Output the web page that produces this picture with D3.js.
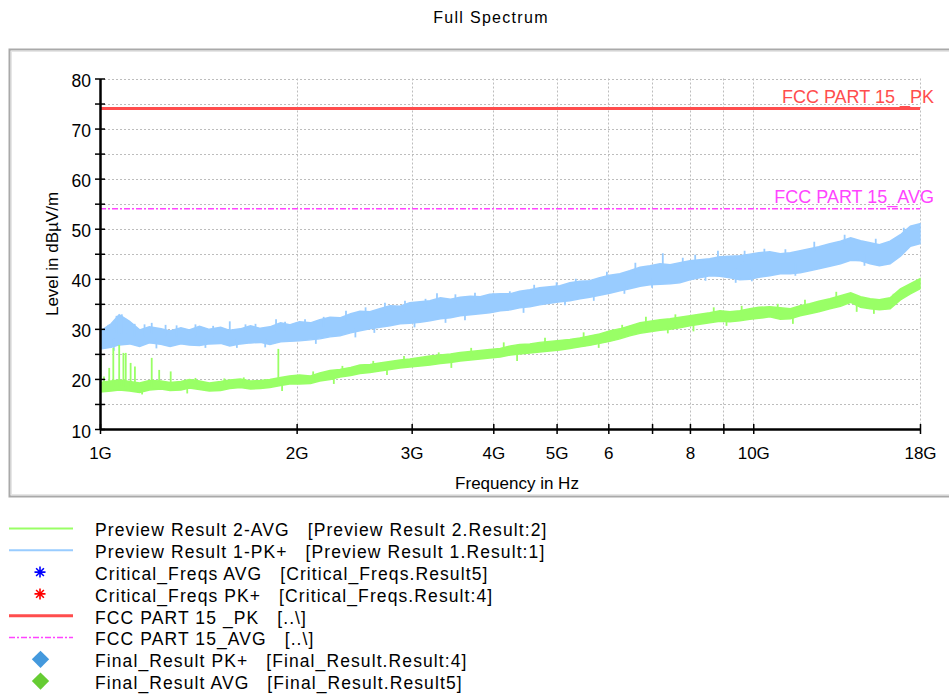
<!DOCTYPE html>
<html>
<head>
<meta charset="utf-8">
<script src="https://cdn.jsdelivr.net/npm/d3@7"></script>
<style>
  body { margin: 0; background: #fff; }
  svg { font-family: "Liberation Sans", Arial, sans-serif; display: block; }
  svg text { white-space: pre; }
</style>
</head>
<body>
<div id="chart"></div>
<script>
// frequency grid in GHz (log spaced)
const freqGHz = [
  1.00, 1.04, 1.07, 1.11, 1.15, 1.19, 1.24, 1.28, 1.33, 1.37,
  1.42, 1.47, 1.53, 1.58, 1.64, 1.70, 1.76, 1.82, 1.89, 1.95,
  2.02, 2.10, 2.17, 2.25, 2.33, 2.42, 2.50, 2.59, 2.68, 2.78,
  2.88, 2.98, 3.09, 3.20, 3.32, 3.44, 3.56, 3.69, 3.82, 3.95,
  4.10, 4.25, 4.39, 4.55, 4.71, 4.88, 5.06, 5.24, 5.43, 5.62,
  5.82, 6.03, 6.25, 6.47, 6.71, 6.95, 7.20, 7.46, 7.72, 8.00,
  8.28, 8.58, 8.89, 9.21, 9.54, 9.88, 10.2, 10.6, 11.0, 11.4,
  11.8, 12.2, 12.6, 13.1, 13.6, 14.1, 14.6, 15.1, 15.6, 16.2,
  16.8, 17.4, 18.0
];

// Preview Result 1-PK+ (blue band: upper / lower edge, dBuV/m)
const pkHigh = [
  29.5, 31.0, 32.8, 31.5, 29.8, 30.4, 30.0, 29.6, 30.2, 29.8,
  30.5, 29.9, 30.3, 29.7, 30.0, 30.6, 30.1, 30.4, 31.2, 30.8,
  31.4, 31.2, 31.8, 32.3, 32.2, 33.0, 33.5, 33.4, 34.0, 34.6,
  34.5, 35.2, 35.4, 35.6, 36.2, 35.9, 36.3, 36.5, 36.4, 36.9,
  37.0, 37.0, 37.5, 37.8, 38.2, 38.4, 38.6, 39.2, 39.5, 39.6,
  40.2, 40.7, 41.0, 41.6, 42.3, 42.6, 43.0, 42.8, 43.2, 43.6,
  43.8, 44.0, 44.4, 44.5, 44.6, 44.9, 45.2, 45.4, 45.0, 45.2,
  45.6, 46.0, 46.4, 47.0, 47.5, 48.2, 47.6, 47.2, 46.8, 47.5,
  48.8, 50.5, 51.0
];
const pkLow = [
  26.0, 26.3, 26.8, 27.0, 26.5, 27.2, 26.9, 26.5, 27.0, 26.8,
  26.7, 27.0, 27.1, 26.6, 27.0, 27.2, 27.3, 26.9, 27.4, 27.5,
  27.6, 27.8, 28.0, 28.4, 28.6, 29.2, 29.6, 30.0, 30.3, 30.6,
  31.0, 31.1, 31.3, 31.6, 32.0, 32.2, 32.6, 32.8, 33.0, 33.2,
  33.6, 33.8, 34.2, 34.4, 34.8, 35.1, 35.4, 35.6, 36.0, 36.3,
  36.7, 37.1, 37.6, 38.0, 38.5, 38.8, 38.9, 39.0, 39.2, 39.8,
  40.2, 40.6, 40.5, 40.2, 39.8, 39.9, 40.3, 40.6, 41.0, 41.0,
  41.2, 41.6, 42.0, 42.5, 43.0, 43.7, 43.6, 43.0, 42.6, 43.0,
  44.5, 46.5, 47.0
];

// Preview Result 2-AVG (green band)
const avgHigh = [
  19.3, 19.6, 19.8, 19.5, 19.2, 19.7, 19.6, 19.3, 19.5, 19.9,
  19.6, 19.2, 19.5, 19.8, 20.0, 19.6, 19.7, 19.9, 20.3, 20.6,
  20.8, 20.6, 21.2, 21.7, 21.9, 22.3, 22.8, 22.9, 23.2, 23.5,
  23.8, 24.0, 24.3, 24.6, 24.8, 25.0, 25.3, 25.5, 25.7, 25.9,
  26.1, 26.6, 26.9, 27.0, 27.3, 27.5, 27.7, 27.9, 28.2, 28.6,
  29.0, 29.6, 30.0, 30.6, 31.2, 31.5, 31.8, 32.0, 32.3, 32.6,
  32.9, 33.2, 33.6, 33.4, 33.6, 34.0, 34.3, 34.4, 34.2, 34.0,
  34.6, 35.0, 35.5, 36.0, 36.6, 37.2, 36.4, 36.0, 35.8, 36.2,
  38.0, 39.0, 40.0
];
const avgLow = [
  17.4, 17.6, 17.8, 17.6, 17.3, 17.8, 18.0, 17.7, 17.8, 18.2,
  17.9, 17.6, 17.7, 18.1, 18.3, 18.0, 18.1, 18.3, 18.7, 19.0,
  19.0, 19.1, 19.6, 19.9, 20.4, 20.7, 21.1, 21.3, 21.6, 21.9,
  22.2, 22.4, 22.6, 22.8, 23.1, 23.3, 23.6, 23.8, 24.0, 24.2,
  24.4, 24.8, 25.0, 25.2, 25.4, 25.6, 25.8, 26.1, 26.4, 26.7,
  27.1, 27.5, 28.0, 28.6, 29.1, 29.4, 29.7, 29.9, 30.2, 30.6,
  30.9, 31.2, 31.5, 31.4, 31.6, 31.9, 32.1, 32.4, 31.9, 32.0,
  32.6, 33.0, 33.4, 34.0, 34.5, 35.3, 34.3, 34.0, 33.8, 34.0,
  35.8, 37.0, 38.0
];

// narrow peaks and notches sticking out of the bands: [GHz, from, to]
const pkSpikes = [
  [1.03, 28.0, 30.8], [1.06, 29.0, 32.6], [1.08, 29.0, 32.9], [1.095, 29.0, 32.0],
  [1.13, 28.5, 31.0], [1.17, 28.5, 30.9], [1.20, 29.0, 31.2], [1.26, 28.5, 30.8],
  [1.31, 28.5, 30.7], [1.40, 28.5, 30.9], [1.49, 28.5, 30.6], [1.58, 29.0, 31.5],
  [1.67, 29.0, 30.9], [1.73, 29.0, 31.0], [1.86, 29.5, 31.9], [1.92, 29.5, 31.4],
  [2.00, 30.0, 31.3], [2.06, 30.0, 31.9], [2.20, 30.5, 32.4], [2.38, 31.5, 33.6],
  [2.55, 32.0, 34.3], [2.73, 33.0, 35.2], [2.93, 33.5, 35.6], [3.15, 34.0, 36.0],
  [3.28, 35.0, 37.1], [3.50, 35.0, 36.9], [3.75, 35.5, 37.2], [4.00, 36.0, 37.1],
  [4.24, 36.0, 37.5], [4.62, 37.0, 38.8], [5.00, 37.5, 39.3], [5.35, 38.0, 40.0],
  [5.97, 39.5, 41.4], [6.60, 41.0, 43.2], [7.27, 42.0, 45.1], [7.80, 42.5, 44.2],
  [8.15, 43.0, 44.8], [8.83, 43.5, 45.6], [9.70, 43.5, 45.6], [10.4, 44.0, 46.0],
  [11.2, 44.0, 45.9], [12.4, 45.5, 47.4], [13.8, 47.0, 48.8], [15.4, 46.0, 48.0],
  [17.0, 48.0, 50.2],
  [1.05, 28.0, 25.6], [1.22, 28.0, 26.1], [1.45, 28.0, 26.2], [1.62, 28.0, 26.2],
  [1.79, 28.0, 26.3], [2.14, 29.0, 27.0], [2.46, 30.0, 28.3], [2.63, 31.0, 29.2],
  [3.03, 32.0, 30.3], [3.38, 33.0, 31.2], [3.62, 33.5, 31.7], [4.45, 35.0, 33.2],
  [5.15, 36.5, 34.7], [5.70, 37.5, 35.6], [6.35, 39.0, 37.0], [7.00, 40.0, 38.2],
  [8.45, 42.0, 39.6], [9.40, 42.0, 39.2], [9.95, 42.0, 39.5], [11.6, 43.0, 40.6],
  [14.8, 45.0, 42.6]
];
const avgSpikes = [
  [1.002, 18.5, 24.5], [1.014, 18.5, 20.5], [1.033, 18.5, 22.2], [1.048, 18.5, 26.2],
  [1.070, 18.5, 26.8], [1.086, 18.5, 25.2], [1.095, 18.5, 25.2], [1.114, 18.5, 23.2],
  [1.131, 18.5, 22.5], [1.200, 18.5, 24.2], [1.232, 18.5, 21.8], [1.283, 18.5, 21.5],
  [1.875, 19.0, 26.0],
  [1.40, 18.5, 20.2], [1.55, 18.5, 20.1], [1.66, 18.7, 20.3], [2.12, 19.5, 21.5],
  [2.35, 20.5, 22.6], [2.62, 21.5, 23.6], [2.92, 22.5, 24.6], [3.30, 23.5, 25.3],
  [3.70, 24.5, 26.2], [4.15, 25.0, 27.3], [4.80, 26.0, 28.2], [5.50, 27.0, 29.3],
  [6.30, 28.5, 30.8], [6.85, 30.0, 32.4], [7.60, 31.0, 32.9], [8.70, 32.0, 34.3],
  [9.60, 32.5, 34.6], [10.9, 33.0, 35.0], [12.0, 34.0, 35.8], [13.4, 35.0, 37.4],
  [16.4, 35.0, 37.0],
  [1.16, 18.5, 16.9], [1.36, 18.5, 17.1], [1.90, 19.0, 17.6], [2.28, 20.0, 19.0],
  [2.75, 22.0, 20.8], [3.45, 23.5, 22.2], [4.35, 25.0, 23.6], [5.80, 27.0, 26.2],
  [7.40, 30.5, 29.1], [8.10, 31.0, 29.5], [9.10, 32.0, 30.6], [11.5, 33.0, 31.0],
  [14.4, 36.0, 33.4], [15.3, 35.0, 33.0]
];

const limitPK = 74;
const limitAVG = 54;

const xTickValues = [1, 2, 3, 4, 5, 6, 7, 8, 9, 10, 18];
const xTickLabels = ["1G", "2G", "3G", "4G", "5G", "6", "", "8", "", "10G", "18G"];
const yTickValues = [10, 15, 20, 25, 30, 35, 40, 45, 50, 55, 60, 65, 70, 75, 80];
const yTickLabels = ["10", "", "20", "", "30", "", "40", "", "50", "", "60", "", "70", "", "80"];

const legendLabels = [
  "Preview Result 2-AVG   [Preview Result 2.Result:2]",
  "Preview Result 1-PK+   [Preview Result 1.Result:1]",
  "Critical_Freqs AVG   [Critical_Freqs.Result5]",
  "Critical_Freqs PK+   [Critical_Freqs.Result:4]",
  "FCC PART 15 _PK   [..\\]",
  "FCC PART 15_AVG   [..\\]",
  "Final_Result PK+   [Final_Result.Result:4]",
  "Final_Result AVG   [Final_Result.Result5]"
];
const legendKinds = ["line", "line", "star", "star", "line", "dashdot", "diamond", "diamond"];
const legendColors = ["#99ff66", "#99ccff", "#0000ff", "#ff0000", "#ff4d4d", "#ff44ff", "#4499dd", "#66cc33"];

const width = 949;
const height = 695;
const plot = { left: 100, right: 920, top: 78.5, bottom: 429 };

const svg = d3.select("#chart").append("svg")
  .attr("width", width)
  .attr("height", height);

// outer frame of the plot panel
svg.append("rect")
  .attr("x", 9.5).attr("y", 49.5)
  .attr("width", 980).attr("height", 447)
  .attr("fill", "none")
  .attr("stroke", "#a9a9a9")
  .attr("stroke-width", 2);
svg.append("rect")
  .attr("x", 11.5).attr("y", 51.5)
  .attr("width", 980).attr("height", 443)
  .attr("fill", "none")
  .attr("stroke", "#e6e6e6")
  .attr("stroke-width", 1);

svg.append("text")
  .attr("x", 491).attr("y", 23)
  .attr("text-anchor", "middle")
  .style("font-size", "16px")
  .style("letter-spacing", "1.3px")
  .text("Full Spectrum");

const x = d3.scaleLog().domain([1, 18]).range([plot.left, plot.right]);
const y = d3.scaleLinear().domain([10, 80]).range([plot.bottom, plot.top]);

// dotted grid
const grid = svg.append("g").attr("class", "grid")
  .attr("stroke", "#bdbdbd").attr("stroke-width", 1).attr("stroke-dasharray", "2,2");
grid.selectAll("line.h").data(yTickValues.filter(v => v > 10)).join("line")
  .attr("class", "h")
  .attr("x1", plot.left).attr("x2", plot.right)
  .attr("y1", d => Math.round(y(d)) + 0.5).attr("y2", d => Math.round(y(d)) + 0.5);
grid.selectAll("line.v").data(xTickValues.filter(v => v > 1)).join("line")
  .attr("class", "v")
  .attr("x1", d => Math.round(x(d)) + 0.5).attr("x2", d => Math.round(x(d)) + 0.5)
  .attr("y1", plot.top).attr("y2", plot.bottom);

svg.append("clipPath").attr("id", "plotclip")
  .append("rect")
  .attr("x", plot.left).attr("y", plot.top - 2)
  .attr("width", plot.right - plot.left + 2).attr("height", plot.bottom - plot.top + 2);

const traces = svg.append("g").attr("clip-path", "url(#plotclip)");

const pkRows = freqGHz.map((f, i) => ({ f, lo: pkLow[i], hi: pkHigh[i] }));
const avgRows = freqGHz.map((f, i) => ({ f, lo: avgLow[i], hi: avgHigh[i] }));

const band = d3.area()
  .x(d => x(d.f))
  .y0(d => y(d.lo))
  .y1(d => y(d.hi));

function drawTrace(rows, spikes, color) {
  traces.append("path").datum(rows)
    .attr("d", band)
    .attr("fill", color)
    .attr("stroke", color)
    .attr("stroke-width", 1.5);
  traces.append("g").selectAll("line").data(spikes).join("line")
    .attr("x1", d => x(d[0])).attr("x2", d => x(d[0]))
    .attr("y1", d => y(d[1])).attr("y2", d => y(d[2]))
    .attr("stroke", color).attr("stroke-width", 1.8);
}
drawTrace(pkRows, pkSpikes, "#99ccff");
drawTrace(avgRows, avgSpikes, "#99ff66");

// limit lines
svg.append("line")
  .attr("x1", plot.left).attr("x2", plot.right)
  .attr("y1", y(limitPK)).attr("y2", y(limitPK))
  .attr("stroke", "#ff4d4d").attr("stroke-width", 3);
svg.append("line")
  .attr("x1", plot.left).attr("x2", plot.right)
  .attr("y1", y(limitAVG)).attr("y2", y(limitAVG))
  .attr("stroke", "#ff44ff").attr("stroke-width", 1.5)
  .attr("stroke-dasharray", "6,2,2,2");

svg.append("text")
  .attr("x", 934).attr("y", y(limitPK) - 6)
  .attr("text-anchor", "end")
  .attr("fill", "#ff4d4d")
  .style("font-size", "18px")
  .text("FCC PART 15 _PK");
svg.append("text")
  .attr("x", 934).attr("y", y(limitAVG) - 5.5)
  .attr("text-anchor", "end")
  .attr("fill", "#ff44ff")
  .style("font-size", "18px")
  .text("FCC PART 15_AVG");

// axes
const xAxis = d3.axisBottom(x)
  .tickValues(xTickValues)
  .tickFormat((d, i) => xTickLabels[i])
  .tickSizeInner(5).tickSizeOuter(0).tickPadding(13);
const yAxis = d3.axisLeft(y)
  .tickValues(yTickValues)
  .tickFormat((d, i) => yTickLabels[i])
  .tickSizeInner(5).tickSizeOuter(0).tickPadding(4);

svg.append("g")
  .attr("transform", `translate(0, ${plot.bottom})`)
  .call(xAxis)
  .call(g => g.select(".domain").attr("stroke-width", 2.5))
  .call(g => g.selectAll(".tick line").attr("y1", -5).attr("y2", 5).attr("stroke-width", 1.5))
  .call(g => g.selectAll(".tick text").style("font-size", "17px").attr("fill", "#000"));

svg.append("g")
  .attr("transform", `translate(${plot.left}, 0)`)
  .call(yAxis)
  .call(g => g.select(".domain").attr("stroke-width", 2.5))
  .call(g => g.selectAll(".tick line").attr("x1", 5).attr("x2", -5).attr("stroke-width", 1.5))
  .call(g => g.selectAll(".tick text").style("font-size", "17.5px").attr("dy", "0.46em").attr("fill", "#000"));

svg.append("text")
  .attr("x", 517).attr("y", 489)
  .attr("text-anchor", "middle")
  .style("font-size", "17px")
  .text("Frequency in Hz");

svg.append("text")
  .attr("transform", "translate(58, 254) rotate(-90)")
  .attr("text-anchor", "middle")
  .style("font-size", "17px")
  .text("Level in dBµV/m");

// legend
const legend = svg.append("g").attr("class", "legend");
const rowY = i => 528.5 + i * 21.8;

legendLabels.forEach((label, i) => {
  const cy = rowY(i);
  const kind = legendKinds[i];
  const color = legendColors[i];
  if (kind === "line" || kind === "dashdot") {
    legend.append("line")
      .attr("x1", 9).attr("x2", 73)
      .attr("y1", cy).attr("y2", cy)
      .attr("stroke", color)
      .attr("stroke-width", i === 4 ? 3 : (kind === "dashdot" ? 1.5 : 2))
      .attr("stroke-dasharray", kind === "dashdot" ? "6,2,2,2" : null);
  } else if (kind === "star") {
    const r = 5.5;
    const arms = [0, 45, 90, 135].map(a => {
      const t = a * Math.PI / 180;
      return `M${40 - r * Math.cos(t)},${cy - r * Math.sin(t)}L${40 + r * Math.cos(t)},${cy + r * Math.sin(t)}`;
    }).join("");
    legend.append("path").attr("d", arms).attr("stroke", color).attr("stroke-width", 1.6);
  } else {
    legend.append("path")
      .attr("d", d3.symbol(d3.symbolSquare, 150)())
      .attr("transform", `translate(40.5, ${cy}) rotate(45)`)
      .attr("fill", color);
  }
  legend.append("text")
    .attr("x", 95).attr("y", cy + 7.8)
    .style("font-size", "17.5px")
    .style("letter-spacing", "1.1px")
    .text(label);
});
</script>
</body>
</html>
